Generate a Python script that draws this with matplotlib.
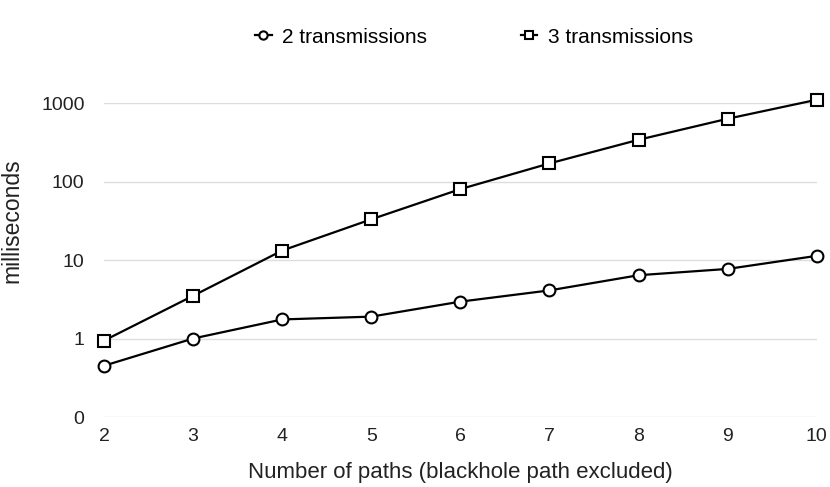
import matplotlib
matplotlib.use("Agg")
import matplotlib.pyplot as plt
from matplotlib.ticker import FixedLocator, FixedFormatter, NullLocator

plt.rcParams['font.family'] = ['Liberation Sans', 'DejaVu Sans']

# data (log scale, "0" tick is really 0.1)
paths = [2, 3, 4, 5, 6, 7, 8, 9, 10]
two_tx = [0.45, 1.0, 1.75, 1.9, 2.95, 4.1, 6.4, 7.7, 11.3]
three_tx = [0.94, 3.5, 13.2, 33, 80, 170, 340, 630, 1100]
ytick_vals = [0.1, 1, 10, 100, 1000]
ytick_labels = ["0", "1", "10", "100", "1000"]

fig = plt.figure(figsize=(8.3, 4.87), dpi=100)
ax = fig.add_axes([0.1253, 0.1437, 0.8587, 0.6448])

ax.plot(paths, two_tx, color="black", lw=1.6, marker="o", ms=8.5,
        mfc="white", mec="black", mew=1.5, clip_on=False, zorder=3,
        label="2 transmissions")
ax.plot(paths, three_tx, color="black", lw=1.6, marker="s", ms=8.5,
        mfc="white", mec="black", mew=1.5, clip_on=False, zorder=3,
        label="3 transmissions")

ax.set_yscale("log")
ax.set_ylim(0.1, 1000)
ax.set_xlim(2, 10)
ax.yaxis.set_major_locator(FixedLocator(ytick_vals))
ax.yaxis.set_major_formatter(FixedFormatter(ytick_labels))
ax.yaxis.set_minor_locator(NullLocator())
ax.set_xticks(paths)

ax.grid(axis="y", color="#dddddd", lw=1)
ax.set_axisbelow(True)
for s in ax.spines.values():
    s.set_visible(False)
ax.tick_params(length=0, labelsize=14, colors="#222222")
ax.tick_params(axis="y", pad=14)
ax.tick_params(axis="x", pad=8)

ax.set_xlabel("Number of paths (blackhole path excluded)", fontsize=16,
              color="#222222", labelpad=12)
ax.set_ylabel("milliseconds", fontsize=16.5, color="#222222")
ax.yaxis.set_label_coords(-0.1136, 0.624)

fig.legend(loc="center", bbox_to_anchor=(0.571, 0.924), ncol=2, frameon=False,
           fontsize=15, handlelength=0.8, handletextpad=0.5,
           columnspacing=4.5, markerscale=0.7)

fig.savefig("out.png", dpi=100)
